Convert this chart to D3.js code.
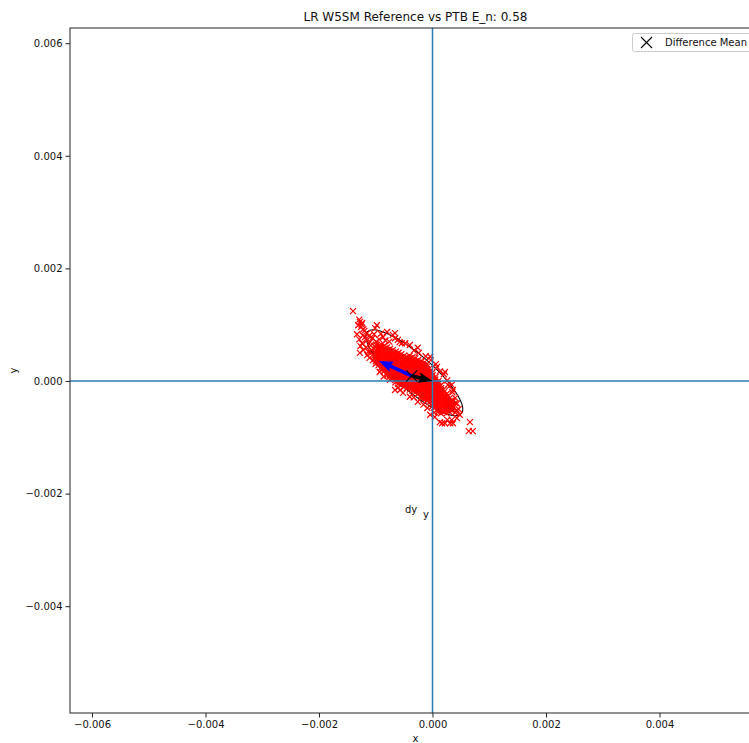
<!DOCTYPE html>
<html>
<head>
<meta charset="utf-8">
<script src="https://cdn.jsdelivr.net/npm/d3@7"></script>
<style>
  body { margin: 0; background: #fff; }
  svg { display: block; }
  text { font-family: "DejaVu Sans", sans-serif; fill: #111; }
</style>
</head>
<body>
<svg id="chart" width="749" height="743"></svg>
<script>
// ---- chart values ---------------------------------------------------------
const chartTitle = "LR W5SM Reference vs PTB E_n: 0.58";
const xLabel = "x";
const yLabel = "y";
const legendLabel = "Difference Mean";

const xTicks = [-0.006, -0.004, -0.002, 0, 0.002, 0.004];
const yTicks = [-0.004, -0.002, 0, 0.002, 0.004, 0.006];
const xDomain = [-0.006388, 0.005789];
const yDomain = [-0.005897, 0.006270];

// difference samples (dx, dy), recorded in units of 1e-4
const OFFSET_UNIT = 1e-4;
const diffCore = [
  [-10.02,3.04],[-9.97,3.51],[-10.05,3.98],[-9.96,4.53],[-10.03,5.02],[-9.98,5.47],[-10.04,6.03],[-9.95,6.46],
  [-9.52,2.77],[-9.47,3.24],[-9.55,3.78],[-9.49,4.22],[-9.53,4.76],[-9.46,5.27],[-9.51,5.73],[-9.48,6.24],
  [-9.03,2.02],[-8.97,2.49],[-9.01,3.03],[-8.96,3.48],[-9.04,4.01],[-8.98,4.52],[-9.02,4.97],[-8.99,5.53],[-9.05,6.02],[-8.97,6.47],
  [-8.51,1.78],[-8.47,2.23],[-8.54,2.76],[-8.49,3.27],[-8.52,3.74],[-8.46,4.26],[-8.53,4.73],[-8.48,5.27],[-8.5,5.76],[-8.55,6.22],
  [-8.02,1.03],[-7.97,1.48],[-8.04,2.02],[-7.98,2.51],[-8.01,2.97],[-7.96,3.52],[-8.03,4.03],[-7.99,4.48],[-8.05,5.01],[-7.97,5.52],[-8.02,5.98],
  [-7.53,0.77],[-7.48,1.24],[-7.51,1.76],[-7.46,2.23],[-7.54,2.77],[-7.49,3.26],[-7.52,3.73],[-7.47,4.27],[-7.5,4.74],[-7.55,5.26],[-7.48,5.73],
  [-7.01,0.52],[-6.97,0.98],[-7.04,1.53],[-6.98,2.01],[-7.02,2.48],[-6.96,3.02],[-7.03,3.51],[-6.99,3.97],[-7.05,4.52],[-6.98,5.03],[-7.02,5.47],
  [-6.52,-0.23],[-6.48,0.26],[-6.54,0.73],[-6.47,1.27],[-6.51,1.74],[-6.46,2.26],[-6.53,2.77],[-6.49,3.23],[-6.55,3.76],[-6.48,4.24],[-6.51,4.77],[-6.47,5.22],
  [-6.03,-0.48],[-5.98,0.02],[-6.02,0.49],[-5.96,1.03],[-6.04,1.48],[-5.99,2.02],[-6.01,2.53],[-5.97,2.98],[-6.05,3.51],[-5.98,4.02],[-6.03,4.47],[-5.99,5.01],
  [-5.51,-0.74],[-5.47,-0.27],[-5.54,0.26],[-5.48,0.73],[-5.52,1.27],[-5.46,1.74],[-5.53,2.23],[-5.49,2.77],[-5.55,3.24],[-5.47,3.76],[-5.52,4.23],[-5.48,4.77],
  [-5.02,-1.03],[-4.97,-0.48],[-5.04,0.03],[-4.98,0.51],[-5.01,0.97],[-4.96,1.52],[-5.03,2.03],[-4.99,2.48],[-5.05,3.02],[-4.97,3.53],[-5.02,3.98],[-4.98,4.52],
  [-4.53,-1.27],[-4.48,-0.73],[-4.51,-0.24],[-4.46,0.27],[-4.54,0.76],[-4.49,1.23],[-4.52,1.77],[-4.47,2.24],[-4.5,2.73],[-4.55,3.26],[-4.48,3.77],[-4.52,4.22],
  [-4.01,-1.52],[-3.97,-0.98],[-4.04,-0.47],[-3.98,0.02],[-4.02,0.53],[-3.96,0.98],[-4.03,1.52],[-3.99,2.03],[-4.05,2.47],[-3.98,3.01],[-4.02,3.52],[-3.97,4.03],[-4.03,4.46],
  [-3.52,-1.73],[-3.48,-1.26],[-3.54,-0.77],[-3.47,-0.22],[-3.51,0.27],[-3.46,0.74],[-3.53,1.26],[-3.49,1.73],[-3.55,2.27],[-3.48,2.76],[-3.51,3.23],[-3.47,3.77],[-3.53,4.22],
  [-3.02,-2.02],[-2.97,-1.47],[-3.04,-0.98],[-2.98,-0.52],[-3.01,0.03],[-2.96,0.48],[-3.03,1.02],[-2.99,1.53],[-3.05,1.98],[-2.97,2.52],[-3.02,3.03],[-2.98,3.47],[-3.03,4.01],
  [-2.51,-2.26],[-2.47,-1.73],[-2.54,-1.24],[-2.48,-0.77],[-2.52,-0.23],[-2.46,0.26],[-2.53,0.77],[-2.49,1.24],[-2.55,1.73],[-2.47,2.27],[-2.52,2.74],[-2.48,3.26],[-2.51,3.73],
  [-2.03,-2.97],[-1.98,-2.52],[-2.02,-1.98],[-1.96,-1.47],[-2.04,-1.03],[-1.99,-0.48],[-2.01,0.02],[-1.97,0.53],[-2.05,0.97],[-1.98,1.52],[-2.03,2.03],[-1.99,2.48],[-2.02,3.02],[-1.97,3.47],
  [-1.52,-3.23],[-1.48,-2.77],[-1.54,-2.24],[-1.47,-1.73],[-1.51,-1.26],[-1.46,-0.74],[-1.53,-0.27],[-1.49,0.26],[-1.55,0.73],[-1.48,1.27],[-1.52,1.76],[-1.47,2.23],[-1.53,2.77],[-1.49,3.22],
  [-1.01,-3.48],[-0.97,-3.02],[-1.04,-2.47],[-0.98,-1.98],[-1.02,-1.52],[-0.96,-0.97],[-1.03,-0.48],[-0.99,0.03],[-1.05,0.52],[-0.98,0.98],[-1.02,1.53],[-0.97,2.02],[-1.03,2.47],[-0.99,2.98],
  [-0.52,-3.76],[-0.48,-3.23],[-0.54,-2.77],[-0.47,-2.24],[-0.51,-1.73],[-0.46,-1.27],[-0.53,-0.76],[-0.49,-0.23],[-0.55,0.24],[-0.48,0.77],[-0.52,1.26],[-0.47,1.73],[-0.53,2.24],
  [-0.02,-4.48],[0.03,-3.97],[-0.04,-3.52],[0.02,-2.98],[-0.01,-2.47],[0.04,-2.02],[-0.03,-1.51],[0.01,-0.97],[-0.05,-0.52],[0.02,0.03],[-0.02,0.48],[0.03,1.02],[-0.03,1.47],
  [0.48,-4.73],[0.53,-4.27],[0.46,-3.74],[0.52,-3.26],[0.49,-2.73],[0.54,-2.22],[0.47,-1.77],[0.51,-1.24],[0.45,-0.73],[0.52,-0.26],[0.48,0.27],[0.53,0.73],
  [0.98,-5.47],[1.03,-5.02],[0.96,-4.48],[1.02,-3.97],[0.99,-3.53],[1.04,-2.98],[0.97,-2.47],[1.01,-2.03],[0.95,-1.48],[1.02,-0.97],[0.98,-0.52],[1.03,-0.02],
  [1.48,-5.73],[1.53,-5.26],[1.46,-4.77],[1.52,-4.23],[1.49,-3.74],[1.54,-3.27],[1.47,-2.76],[1.51,-2.23],[1.45,-1.74],[1.52,-1.27],[1.48,-0.76],
  [1.98,-5.52],[2.03,-4.97],[1.96,-4.48],[2.02,-4.02],[1.99,-3.47],[2.04,-2.98],[1.97,-2.53],[2.01,-1.97],[1.95,-1.52],
  [2.48,-5.74],[2.53,-5.23],[2.46,-4.77],[2.52,-4.26],[2.49,-3.73],[2.54,-3.24],[2.47,-2.77],[2.51,-2.26],
  [2.98,-5.48],[3.03,-5.02],[2.96,-4.47],[3.02,-3.98],[2.99,-3.52],[3.04,-3.03],
  [3.48,-5.24],[3.53,-4.77],[3.46,-4.26],[3.52,-3.73]
];
const diffSparse = [
  [-14.0,12.4],[-12.9,10.9],[-12.8,10.5],[-12.4,10.3],[-13.1,9.9],[-12.5,10.0],[-12.6,9.6],[-12.2,9.2],
  [-9.8,9.9],[-10.1,9.4],[-11.5,8.5],[-12.0,8.9],[-11.9,7.8],[-12.4,6.7],[-11.0,6.9],[-10.7,5.5],
  [-12.2,5.5],[-11.5,4.6],[-10.5,3.7],[-8.0,8.7],[-7.0,8.2],[-6.6,7.6],[-8.7,7.8],[-11.2,8.0],
  [-10.6,7.6],[-11.6,7.2],[-10.9,6.3],[-11.7,6.0],[-12.9,7.4],[-13.3,8.3],[-12.3,8.1],[-11.3,5.2],
  [-10.3,4.5],[-9.4,7.4],[-10.3,8.3],[-9.1,8.4],[-8.3,7.2],[-7.6,7.0],[-9.9,7.0],[-11.1,4.1],
  [-12.7,6.2],[-10.8,5.0],[-6.1,7.3],[-5.4,6.7],[-6.6,8.5],[-4.8,6.7],[-4.0,6.4],[-2.6,5.9],
  [-0.4,4.3],[0.8,2.5],[2.2,1.6],[-5.8,6.9],[-3.3,5.4],[-2.4,5.0],[-1.2,4.4],[-0.3,3.7],
  [0.6,3.0],[1.3,1.7],[2.0,1.2],[2.6,0.1],[3.0,-0.9],[3.5,-2.0],[4.0,-3.0],[4.3,-4.0],[4.6,-5.0],
  [3.4,-0.7],[3.6,-1.6],[2.7,-0.7],[3.4,-3.4],[3.6,-4.6],[4.0,-3.9],[4.8,-6.0],[4.3,-6.6],
  [3.4,-6.9],[2.6,-6.9],[1.7,-7.5],[3.1,-7.5],[6.6,-7.3],[6.4,-8.9],[7.1,-8.9],[4.3,-5.2],
  [1.3,-7.3],[2.2,-7.5],[3.6,-7.5],[-0.4,-6.0],[0.4,-6.4],[4.0,-5.6],
  [-9.3,1.6],[-7.5,0.2],[-6.1,-1.2],[-5.2,-2.1],[-6.6,-1.6],[-5.7,-1.6],[-4.0,-2.8],[-2.6,-3.7],
  [-8.6,0.8],[-3.3,-2.9],[-1.6,-4.2],[-0.9,-4.8],[0.3,-5.6],[-12.8,5.0]
];

const diffMean = [-0.000367, 0.000092];
const meanArrowTip = [0, 0];                     // black arrow: mean -> origin
const principalArrowTip = [-0.000943, 0.000355]; // blue arrow from the mean
const ellipseCenter = [-0.000321, 0.000146];
const ellipseSemiAxes = [0.001097, 0.000315];
const ellipseAngleDeg = -41;

const annotations = [
  { text: "dy", x: -0.000485, y: -0.002345 },
  { text: "y",  x: -0.000167, y: -0.002425 }
];

// ---- layout ----------------------------------------------------------------
const plot = { left: 70, top: 28, right: 761, bottom: 713 };
const svg = d3.select("#chart");

const x = d3.scaleLinear().domain(xDomain).range([plot.left, plot.right]);
const y = d3.scaleLinear().domain(yDomain).range([plot.bottom, plot.top]);

svg.append("defs").append("clipPath").attr("id", "plotClip")
  .append("rect")
  .attr("x", plot.left).attr("y", plot.top)
  .attr("width", plot.right - plot.left).attr("height", plot.bottom - plot.top);

const g = svg.append("g").attr("clip-path", "url(#plotClip)");

// confidence ellipse
const ecx = x(ellipseCenter[0]), ecy = y(ellipseCenter[1]);
g.append("ellipse")
  .attr("cx", ecx).attr("cy", ecy)
  .attr("rx", x(ellipseSemiAxes[0]) - x(0))
  .attr("ry", y(0) - y(ellipseSemiAxes[1]))
  .attr("transform", `rotate(${-ellipseAngleDeg},${ecx},${ecy})`)
  .attr("fill", "none").attr("stroke", "#000").attr("stroke-width", 1.1);

// difference samples as red x markers
const samples = diffCore.concat(diffSparse).map(([a, b]) => [a * OFFSET_UNIT, b * OFFSET_UNIT]);
const xMarker = (px, py, r) => `M${px - r},${py - r}L${px + r},${py + r}M${px - r},${py + r}L${px + r},${py - r}`;
g.append("g").selectAll("path").data(samples).join("path")
  .attr("d", d => xMarker(x(d[0]), y(d[1]), 3))
  .attr("stroke", "#ff0000").attr("stroke-width", 1.2).attr("fill", "none");

// zero reference lines
g.append("line")
  .attr("x1", plot.left).attr("x2", plot.right)
  .attr("y1", y(0)).attr("y2", y(0))
  .attr("stroke", "#2a7db4").attr("stroke-width", 1.5);
g.append("line")
  .attr("x1", x(0)).attr("x2", x(0))
  .attr("y1", plot.top).attr("y2", plot.bottom)
  .attr("stroke", "#2a7db4").attr("stroke-width", 1.5);

// quiver-style arrows
function arrowShape(x0, y0, x1, y1, shaftW, headW, headL, headAxisL) {
  const dx = x1 - x0, dy = y1 - y0, L = Math.hypot(dx, dy);
  const ux = dx / L, uy = dy / L, px = -uy, py = ux;
  const at = (along, side) => [x1 - ux * along + px * side, y1 - uy * along + py * side];
  const pts = [
    [x0 + px * shaftW / 2, y0 + py * shaftW / 2],
    at(headAxisL, shaftW / 2),
    at(headL, headW / 2),
    [x1, y1],
    at(headL, -headW / 2),
    at(headAxisL, -shaftW / 2),
    [x0 - px * shaftW / 2, y0 - py * shaftW / 2]
  ];
  return d3.line()(pts) + "Z";
}
g.append("path")
  .attr("d", arrowShape(x(diffMean[0]), y(diffMean[1]), x(principalArrowTip[0]), y(principalArrowTip[1]), 3.6, 10.8, 14, 12.6))
  .attr("fill", "#0000ff");
g.append("path")
  .attr("d", arrowShape(x(diffMean[0]), y(diffMean[1]), x(meanArrowTip[0]), y(meanArrowTip[1]), 3.6, 10.8, 14, 12.6))
  .attr("fill", "#000");

// mean marker
g.append("path")
  .attr("d", xMarker(x(diffMean[0]), y(diffMean[1]), 5.5))
  .attr("stroke", "#000").attr("stroke-width", 1.1).attr("fill", "none");

// text annotations
g.selectAll("text.note").data(annotations).join("text")
  .attr("class", "note")
  .attr("x", d => x(d.x)).attr("y", d => y(d.y))
  .attr("font-size", 10)
  .text(d => d.text);

// ---- axes --------------------------------------------------------------------
const fmt = d3.format(".3f");
const xAxis = svg.append("g")
  .attr("transform", `translate(0,${plot.bottom})`)
  .call(d3.axisBottom(x).tickValues(xTicks).tickFormat(fmt).tickSize(4.5).tickSizeOuter(0).tickPadding(3));
const yAxis = svg.append("g")
  .attr("transform", `translate(${plot.left},0)`)
  .call(d3.axisLeft(y).tickValues(yTicks).tickFormat(fmt).tickSize(4.5).tickSizeOuter(0).tickPadding(3));
[xAxis, yAxis].forEach(a => {
  a.select(".domain").remove();
  a.selectAll(".tick line").attr("stroke", "#222").attr("stroke-width", 1);
  a.selectAll(".tick text").attr("font-size", 10).attr("font-family", "DejaVu Sans, sans-serif").attr("fill", "#111");
});

// frame
svg.append("rect")
  .attr("x", plot.left).attr("y", plot.top)
  .attr("width", plot.right - plot.left).attr("height", plot.bottom - plot.top)
  .attr("fill", "none").attr("stroke", "#222").attr("stroke-width", 1);

// titles
svg.append("text")
  .attr("x", (plot.left + plot.right) / 2).attr("y", 21)
  .attr("text-anchor", "middle").attr("font-size", 12)
  .text(chartTitle);
svg.append("text")
  .attr("x", (plot.left + plot.right) / 2).attr("y", 742)
  .attr("text-anchor", "middle").attr("font-size", 10)
  .text(xLabel);
svg.append("text")
  .attr("transform", `translate(17,${(plot.top + plot.bottom) / 2}) rotate(-90)`)
  .attr("text-anchor", "middle").attr("font-size", 10)
  .text(yLabel);

// legend
const legend = svg.append("g").attr("transform", "translate(632,33)");
legend.append("rect")
  .attr("x", 0.5).attr("y", 0.5).attr("width", 150).attr("height", 18).attr("rx", 2)
  .attr("fill", "#fff").attr("fill-opacity", 0.8)
  .attr("stroke", "#ccc").attr("stroke-width", 1);
legend.append("path")
  .attr("d", xMarker(14.5, 9.5, 5.5))
  .attr("stroke", "#000").attr("stroke-width", 1.1).attr("fill", "none");
legend.append("text")
  .attr("x", 33).attr("y", 13).attr("font-size", 10)
  .text(legendLabel);
</script>
</body>
</html>
